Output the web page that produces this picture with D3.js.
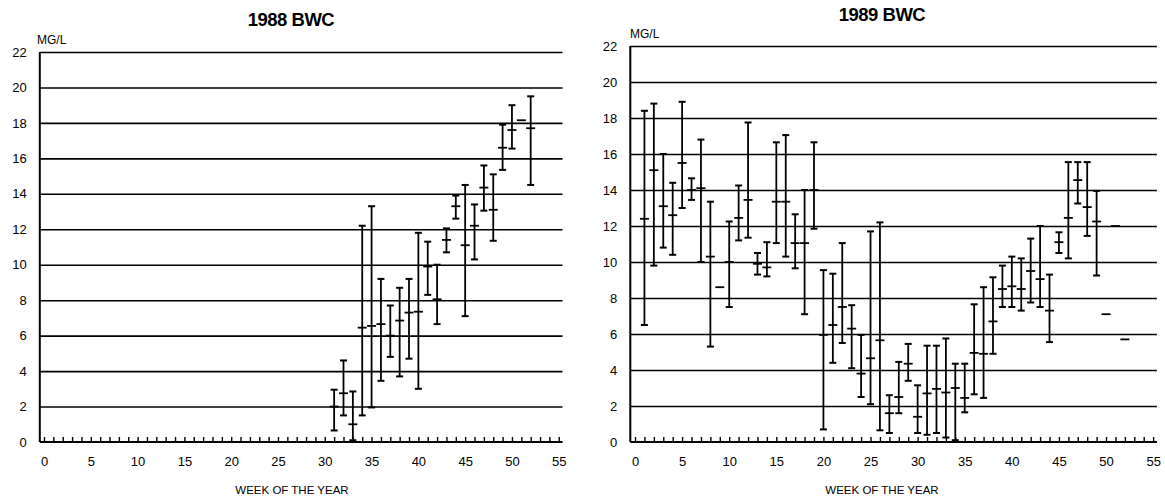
<!DOCTYPE html>
<html><head><meta charset="utf-8">
<script src="https://cdn.jsdelivr.net/npm/d3@7"></script>
<style>
body{margin:0;background:#fff;}
svg{display:block;font-family:"Liberation Sans",Arial,sans-serif;}
</style></head>
<body><svg id="c" width="1165" height="501"></svg>
<script>
// ---- data ----
const yTicks = [0,2,4,6,8,10,12,14,16,18,20,22];
const xTicks = [0,5,10,15,20,25,30,35,40,45,50,55];
const titles = ["1988 BWC","1989 BWC"];
const yUnit = "MG/L";
const xTitle = "WEEK OF THE YEAR";

const weeks1988 = [31,32,33,34,35,36,37,38,39,40,41,42,43,44,45,46,47,48,49,50,51,52];
const mean1988  = [2.0,2.75,1.0,6.45,6.55,6.65,6.0,6.85,7.3,7.35,9.9,8.05,11.4,13.3,11.1,12.2,14.35,13.1,16.6,17.6,18.15,17.7];
const low1988   = [0.65,1.5,0.1,1.5,1.95,3.45,4.8,3.7,4.7,3.0,8.3,6.65,10.7,12.6,7.1,10.3,13.05,11.35,15.35,16.55,null,14.5];
const high1988  = [2.95,4.6,2.85,12.2,13.3,9.2,7.7,8.7,9.2,11.8,11.3,10.0,12.05,13.9,14.5,13.4,15.6,15.1,17.9,19.0,null,19.5];

const weeks1989 = [1,2,3,4,5,6,7,8,9,10,11,12,13,14,15,16,17,18,19,20,21,22,23,24,25,26,27,28,29,30,31,32,33,34,35,36,37,38,39,40,41,42,43,44,45,46,47,48,49,50,51,52];
const mean1989  = [12.4,15.1,13.1,12.6,15.5,14.0,14.1,10.3,8.6,10.0,12.45,13.45,9.9,9.7,13.35,13.35,11.05,11.05,14.0,5.95,6.5,7.5,6.3,3.8,4.65,5.65,1.6,2.5,4.35,1.4,2.7,2.95,2.75,3.0,2.45,4.95,4.9,6.7,8.5,8.65,8.5,9.5,9.05,7.3,11.1,12.45,14.55,13.05,12.25,7.1,12.0,5.7];
const low1989   = [6.5,9.8,10.8,10.4,13.0,13.45,10.0,5.3,null,7.5,11.2,11.35,9.3,9.2,11.05,10.3,9.65,7.1,11.85,0.7,4.4,5.5,4.1,2.5,2.1,0.65,0.5,1.6,3.4,0.5,0.4,0.5,0.25,0.1,1.65,2.65,2.45,4.9,7.5,7.5,7.3,7.75,7.5,5.55,10.5,10.2,13.25,11.45,9.25,null,null,null];
const high1989  = [18.4,18.8,16.0,14.4,18.9,14.65,16.8,13.35,null,12.25,14.25,17.75,10.5,11.1,16.65,17.05,12.65,14.0,16.65,9.55,9.35,11.05,7.6,5.95,11.7,12.2,2.6,4.45,5.45,3.15,5.35,5.35,5.75,4.35,4.35,7.65,8.6,9.15,9.8,10.3,10.2,11.3,12.0,9.3,11.65,15.55,15.55,15.55,13.95,null,null,null];

const svg = d3.select("#c");

function chart(opt){
  const {weeks, mean, low, high, xr, xd, yr, title, titleX, titleY, unitX, unitY, labelX} = opt;
  const x = d3.scaleLinear().domain(xd).range(xr);
  const y = d3.scaleLinear().domain([0,22]).range(yr);
  const g = svg.append("g");

  // gridlines
  g.append("g").attr("transform",`translate(${xr[0]},0)`)
    .call(d3.axisLeft(y).tickValues(yTicks.filter(v=>v>0)).tickSize(-(xr[1]-xr[0])).tickFormat(""))
    .call(s=>s.select(".domain").remove())
    .call(s=>s.selectAll("line").attr("stroke","#000").attr("stroke-width",1.6));
  // y axis line + labels
  g.append("line").attr("x1",xr[0]).attr("x2",xr[0]).attr("y1",y(0)).attr("y2",y(22))
    .attr("stroke","#000").attr("stroke-width",2);
  g.append("g").attr("transform",`translate(${xr[0]},0)`)
    .call(d3.axisLeft(y).tickValues(yTicks).tickSize(0).tickPadding(13))
    .call(s=>s.select(".domain").remove())
    .call(s=>s.selectAll("text").attr("font-size",13).attr("fill","#000").attr("font-family","Liberation Sans, Arial, sans-serif"));
  // x axis
  g.append("g").attr("transform",`translate(0,${y(0)})`)
    .call(d3.axisBottom(x).tickValues(d3.range(0,56)).tickSize(-5).tickFormat(""))
    .call(s=>s.select(".domain").attr("stroke","#000").attr("stroke-width",2).attr("d",`M${xr[0]},0H${xr[1]}`))
    .call(s=>s.selectAll("line").attr("stroke","#000").attr("stroke-width",1.4));
  g.append("g").attr("transform",`translate(0,${y(0)})`)
    .call(d3.axisBottom(x).tickValues(xTicks).tickSize(0).tickPadding(15))
    .call(s=>s.select(".domain").remove())
    .call(s=>s.selectAll("text").attr("font-size",13).attr("fill","#000").attr("font-family","Liberation Sans, Arial, sans-serif"));

  // error bars
  const data = weeks.map((w,i)=>({w, m:mean[i], lo:low[i], hi:high[i]}));
  const bars = g.append("g");
  const rng = data.filter(d=>d.lo!=null);
  bars.selectAll("line.v").data(rng).join("line").attr("class","v")
    .attr("x1",d=>x(d.w)).attr("x2",d=>x(d.w)).attr("y1",d=>y(d.lo)).attr("y2",d=>y(d.hi))
    .attr("stroke","#000").attr("stroke-width",1.8);
  bars.selectAll("line.t").data(rng).join("line").attr("class","t")
    .attr("x1",d=>x(d.w)-3.5).attr("x2",d=>x(d.w)+3.5).attr("y1",d=>y(d.hi)).attr("y2",d=>y(d.hi))
    .attr("stroke","#000").attr("stroke-width",2);
  bars.selectAll("line.b").data(rng).join("line").attr("class","b")
    .attr("x1",d=>x(d.w)-3.5).attr("x2",d=>x(d.w)+3.5).attr("y1",d=>y(d.lo)).attr("y2",d=>y(d.lo))
    .attr("stroke","#000").attr("stroke-width",2);
  bars.selectAll("line.m").data(data).join("line").attr("class","m")
    .attr("x1",d=>x(d.w)-4.5).attr("x2",d=>x(d.w)+4.5).attr("y1",d=>y(d.m)).attr("y2",d=>y(d.m))
    .attr("stroke","#000").attr("stroke-width",1.8);

  // texts
  g.append("text").attr("x",titleX).attr("y",titleY).attr("text-anchor","middle")
    .attr("font-size",18.5).attr("font-weight","bold").attr("letter-spacing","-0.5").text(title);
  g.append("text").attr("x",unitX).attr("y",unitY).attr("font-size",12).text(yUnit);
  g.append("text").attr("x",labelX).attr("y",494).attr("text-anchor","middle")
    .attr("font-size",11.5).text(xTitle);
}

chart({weeks:weeks1988, mean:mean1988, low:low1988, high:high1988,
  xd:[-0.45,55.4], xr:[39.8,562.5], yr:[442,52], title:titles[0], titleX:291, titleY:26,
  unitX:37, unitY:44, labelX:292});
chart({weeks:weeks1989, mean:mean1989, low:low1989, high:high1989,
  xd:[-0.5,55.4], xr:[630.3,1156.9], yr:[442,46], title:titles[1], titleX:882, titleY:21,
  unitX:630, unitY:38, labelX:882});
</script></body></html>
